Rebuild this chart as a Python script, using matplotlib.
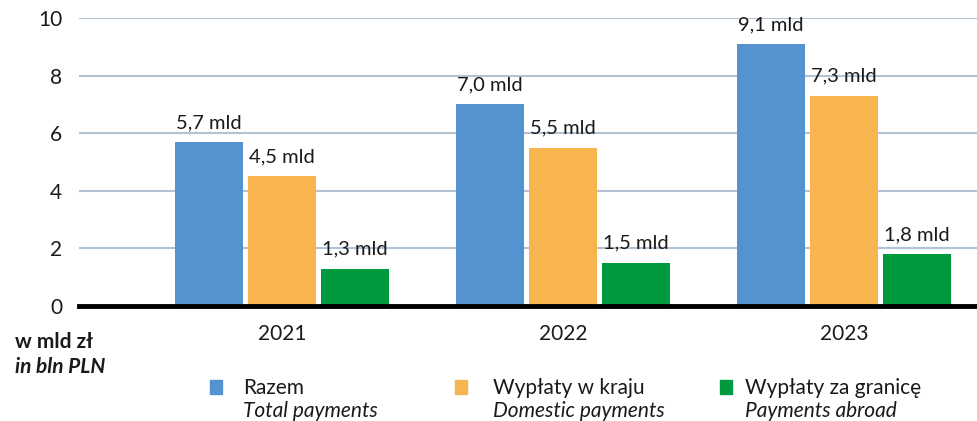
import matplotlib
matplotlib.use("Agg")
import matplotlib.pyplot as plt
import numpy as np
from matplotlib.patches import Rectangle

plt.rcParams['font.family'] = ['Lato', 'DejaVu Sans']

years = ["2021", "2022", "2023"]
total = [5.7, 7.0, 9.1]
domestic = [4.5, 5.5, 7.3]
abroad = [1.3, 1.5, 1.8]
series_pl = ["Razem", "Wypłaty w kraju", "Wypłaty za granicę"]
series_en = ["Total payments", "Domestic payments", "Payments abroad"]
colors = ["#5592d0", "#f8b44e", "#009a3e"]
yticks = [0, 2, 4, 6, 8, 10]

W, H = 978, 421
fig = plt.figure(figsize=(W/100, H/100), dpi=100)
ax = fig.add_axes([79/W, (H-306)/H, 1-79/W, (306-18)/H])

x = np.arange(len(years))
bw = 68/281
step = 73/281
for i, (vals, c) in enumerate(zip([total, domestic, abroad], colors)):
    pos = x + (i-1)*step
    ax.bar(pos, vals, width=bw, color=c, zorder=3)
    for p, v in zip(pos, vals):
        ax.text(p, v + 0.38, f"{v:.1f}".replace(".", ",") + " mld", ha='center', va='bottom',
                fontsize=14.5, color='#1a1a1a', zorder=4)

ax.set_xlim(-203/281, (978-282)/281)
ax.set_ylim(0, 10)
ax.set_yticks(yticks)
ax.set_yticklabels([str(t) for t in yticks], fontsize=15, color='#1a1a1a')
ax.yaxis.grid(True, color='#b4c3d3', linewidth=1.5, zorder=0)
ax.set_axisbelow(True)
ax.axhline(0, color='black', linewidth=3.5, zorder=5, clip_on=False)
for s in ax.spines.values():
    s.set_visible(False)
ax.tick_params(axis='y', length=0, pad=12)
ax.tick_params(axis='x', length=0, pad=13)
ax.set_xticks(x)
ax.set_xticklabels(years, fontsize=15, color='#1a1a1a')

fig.text(15/W, 1-342/H, "w mld zł", fontsize=15, fontweight='bold', ha='left', va='center', color='#1a1a1a')
fig.text(15/W, 1-367/H, "in bln PLN", fontsize=15, fontweight='bold', style='italic', ha='left', va='center', color='#1a1a1a')

patch_x = [210, 455, 720]
text_x = [243, 493, 745]
for px, tx, c, pl, en in zip(patch_x, text_x, colors, series_pl, series_en):
    fig.patches.append(Rectangle((px/W, 1-394/H), 12/W, 14/H, transform=fig.transFigure,
                                 color=c, figure=fig))
    fig.text(tx/W, 1-388/H, pl, fontsize=15, ha='left', va='center', color='#1a1a1a')
    fig.text(tx/W, 1-411/H, en, fontsize=15, style='italic', ha='left', va='center', color='#1a1a1a')

fig.savefig("out.png", dpi=100)
